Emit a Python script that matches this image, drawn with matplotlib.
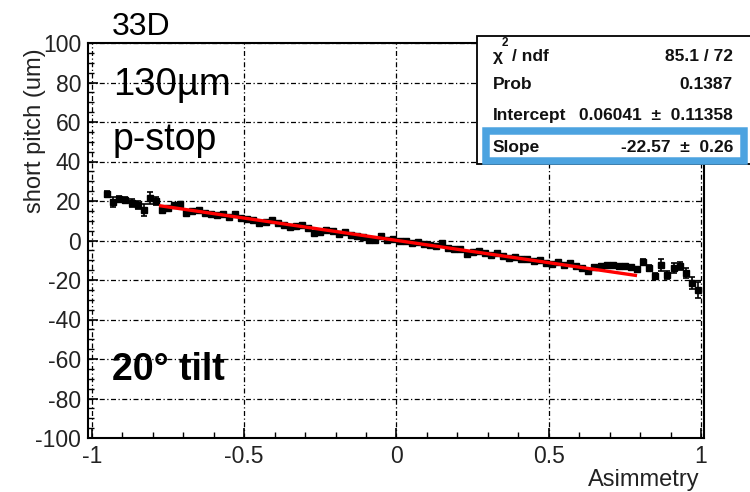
import matplotlib
matplotlib.use("Agg")
import matplotlib.pyplot as plt
import numpy as np
from matplotlib.patches import Rectangle
from matplotlib.ticker import MultipleLocator

plt.rcParams['font.family'] = ['Liberation Sans', 'DejaVu Sans']

# ---- data ----
asym = [-0.95, -0.93, -0.91, -0.89, -0.87, -0.85, -0.83, -0.81, -0.79, -0.77,
        -0.75, -0.73, -0.71, -0.69, -0.67, -0.65, -0.63, -0.61, -0.59, -0.57,
        -0.55, -0.53, -0.51, -0.49, -0.47, -0.45, -0.43, -0.41, -0.39, -0.37,
        -0.35, -0.33, -0.31, -0.29, -0.27, -0.25, -0.23, -0.21, -0.19, -0.17,
        -0.15, -0.13, -0.11, -0.09, -0.07, -0.05, -0.03, -0.01, 0.01, 0.03,
        0.05, 0.07, 0.09, 0.11, 0.13, 0.15, 0.17, 0.19, 0.21, 0.23,
        0.25, 0.27, 0.29, 0.31, 0.33, 0.35, 0.37, 0.39, 0.41, 0.43,
        0.45, 0.47, 0.49, 0.51, 0.53, 0.55, 0.57, 0.59, 0.61, 0.63,
        0.65, 0.67, 0.69, 0.71, 0.73, 0.75, 0.77, 0.79, 0.81, 0.83,
        0.85, 0.87, 0.89, 0.91, 0.93, 0.95, 0.97, 0.99]
pitch = [23.5, 19.5, 21.0, 20.5, 19.0, 18.0, 15.5, 21.5, 20.0, 15.5,
         16.5, 18.0, 18.5, 14.0, 15.0, 15.5, 14.0, 13.5, 13.0, 13.5,
         12.0, 13.5, 11.5, 11.0, 10.5, 9.0, 9.5, 10.5, 9.0, 8.0,
         7.0, 7.5, 8.0, 6.5, 4.0, 4.5, 5.5, 5.0, 3.5, 4.5,
         3.0, 2.5, 2.0, 0.5, 0.5, 2.5, 0.5, 1.0, 0.0, -0.5,
         -1.5, -1.0, -2.0, -2.5, -3.0, -1.5, -4.0, -4.5, -4.5, -7.0,
         -6.0, -5.5, -6.5, -7.5, -6.5, -8.0, -9.0, -8.5, -9.5, -9.5,
         -10.5, -10.0, -11.5, -12.0, -11.0, -12.5, -11.5, -13.0, -14.0, -15.5,
         -13.5, -13.0, -12.5, -12.5, -13.0, -13.0, -13.5, -14.5, -11.0, -14.0,
         -18.0, -12.5, -17.5, -14.0, -13.0, -16.5, -21.5, -25.0]
pitch_err = [1.5, 2.5, 1.5, 1.5, 2.0, 2.0, 3.0, 3.0, 2.0, 1.2,
             1.0, 1.0, 1.0, 1.0, 1.0, 1.0, 1.0, 1.0, 1.0, 1.0,
             1.0, 1.0, 1.0, 1.0, 1.0, 1.0, 1.0, 1.0, 1.0, 1.0,
             1.0, 1.0, 1.0, 1.0, 1.0, 1.0, 1.0, 1.0, 1.0, 1.0,
             1.0, 1.0, 1.0, 1.0, 1.0, 1.0, 1.0, 1.0, 1.0, 1.0,
             1.0, 1.0, 1.0, 1.0, 1.0, 1.0, 1.0, 1.0, 1.0, 1.0,
             1.0, 1.0, 1.0, 1.0, 1.0, 1.0, 1.0, 1.0, 1.0, 1.0,
             1.0, 1.0, 1.0, 1.0, 1.0, 1.0, 1.0, 1.0, 1.0, 1.0,
             1.0, 1.0, 1.0, 1.0, 1.0, 1.0, 1.0, 1.2, 1.5, 1.5,
             1.5, 3.0, 2.0, 2.5, 2.0, 2.5, 3.0, 4.0]

fit_intercept = 0.06041
fit_slope = -22.57
fit_range = [-0.78, 0.79]

stat_labels = ["Prob", "Intercept", "Slope"]
stat_values = ["0.1387", "0.06041  \u00b1  0.11358", "-22.57  \u00b1  0.26"]
chi2_value = "85.1 / 72"

W, H = 750, 492
fig = plt.figure(figsize=(W / 100, H / 100), dpi=100)
fig.patch.set_facecolor('white')

def fx(px):
    return px / W

def fy(py):
    return 1 - py / H

ax = fig.add_axes([fx(88), fy(438), fx(704) - fx(88), fy(43) - fy(438)])
ax.set_xlim(-1.0131, 1.0099)
ax.set_ylim(-100, 100)

gridstyle = (0, (4, 2, 1, 2))
ax.xaxis.set_major_locator(MultipleLocator(0.5))
ax.xaxis.set_minor_locator(MultipleLocator(0.1))
ax.yaxis.set_major_locator(MultipleLocator(20))
ax.yaxis.set_minor_locator(MultipleLocator(5))
ax.grid(True, which='major', color='black', linestyle=gridstyle, linewidth=0.9)
ax.set_axisbelow(True)

ax.tick_params(which='major', direction='in', length=7, width=1.2,
               labelsize=16.5, colors='black', labelcolor='#222222', pad=5,
               top=False, right=False)
ax.tick_params(which='minor', direction='in', length=4, width=1.0,
               top=False, right=False)
ax.set_xticks([-1, -0.5, 0, 0.5, 1])
ax.set_xticklabels(['-1', '-0.5', '0', '0.5', '1'])
ax.set_yticks([-100, -80, -60, -40, -20, 0, 20, 40, 60, 80, 100])
ax.set_yticklabels(['-100', '-80', '-60', '-40', '-20', '0', '20', '40', '60', '80', '100'])
for s in ax.spines.values():
    s.set_linewidth(1.5)
    s.set_color('black')

ax.errorbar(asym, pitch, yerr=pitch_err, fmt='s', color='black', ms=4.5,
            elinewidth=1.2, capsize=2, capthick=1.2, zorder=3)

fx_line = np.array(fit_range)
ax.plot(fx_line, fit_intercept + fit_slope * fx_line, color='red', lw=2.4,
        zorder=4, solid_capstyle='butt')

# labels
fig.text(fx(35), fy(48), "short pitch (um)", rotation=90, ha='center',
         va='top', fontsize=17, color='#222222')
fig.text(fx(700), fy(480), "Asimmetry", ha='right', va='center',
         fontsize=17, color='#222222')

fig.text(fx(112), fy(35), "33D", fontsize=23, va='baseline', ha='left')
fig.text(fx(113), fy(95), "130\u00b5m", fontsize=27.5, va='baseline', ha='left')
fig.text(fx(113), fy(150), "p-stop", fontsize=27, va='baseline', ha='left')
fig.text(fx(112), fy(380), "20\u00b0 tilt", fontsize=27, va='baseline',
         ha='left', fontweight='bold')

# stats box
box = Rectangle((fx(477), fy(164)), fx(290), fy(36) - fy(164),
                transform=fig.transFigure, facecolor='white',
                edgecolor='black', linewidth=1.3, zorder=5)
fig.patches.append(box)
hl = Rectangle((fx(486), fy(160.5)), fx(744) - fx(486), fy(131) - fy(160.5),
               transform=fig.transFigure, facecolor='none',
               edgecolor='#4ca3e0', linewidth=5.4, zorder=6)
fig.patches.append(hl)

sfont = dict(fontsize=12.5, fontweight='bold', color='#111111', zorder=7)
fig.text(fx(493), fy(61), "\u03c7", va='baseline', ha='left', **sfont)
fig.text(fx(502), fy(46), "2", va='baseline', ha='left',
         fontsize=8.5, fontweight='bold', color='#111111', zorder=7)
fig.text(fx(512), fy(61), "/ ndf", va='baseline', ha='left', **sfont)
fig.text(fx(733), fy(61), chi2_value, va='baseline', ha='right', **sfont)
row_base = [89, 120, 152]
for lab, val, yb in zip(stat_labels, stat_values, row_base):
    fig.text(fx(493), fy(yb), lab, va='baseline', ha='left', **sfont)
    fig.text(fx(733), fy(yb), val, va='baseline', ha='right', **sfont)

fig.savefig("out.png", dpi=100)
